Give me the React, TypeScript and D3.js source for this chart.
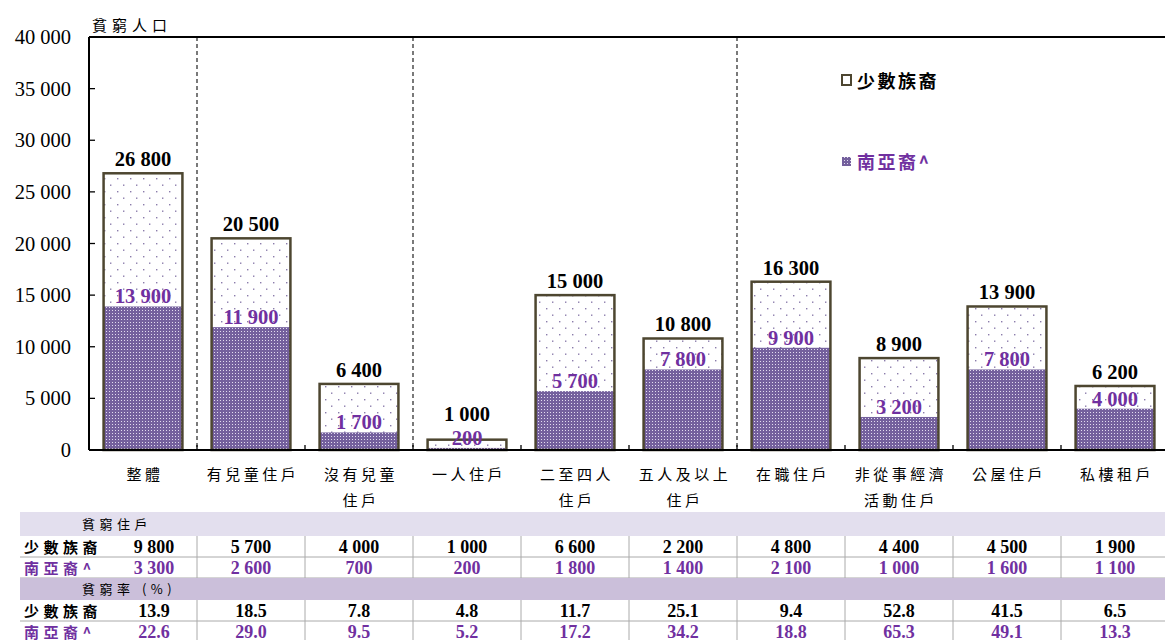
import React from "react";
import * as d3 from "d3";

const categories = ["整體", "有兒童住戶", "沒有兒童住戶", "一人住戶", "二至四人住戶", "五人及以上住戶", "在職住戶", "非從事經濟活動住戶", "公屋住戶", "私樓租戶"];
const categoryLines = [["整體"], ["有兒童住戶"], ["沒有兒童", "住戶"], ["一人住戶"], ["二至四人", "住戶"], ["五人及以上", "住戶"], ["在職住戶"], ["非從事經濟", "活動住戶"], ["公屋住戶"], ["私樓租戶"]];
const minorityPop = [26800, 20500, 6400, 1000, 15000, 10800, 16300, 8900, 13900, 6200];
const southAsianPop = [13900, 11900, 1700, 200, 5700, 7800, 9900, 3200, 7800, 4000];
const minorityHH = [9800, 5700, 4000, 1000, 6600, 2200, 4800, 4400, 4500, 1900];
const southAsianHH = [3300, 2600, 700, 200, 1800, 1400, 2100, 1000, 1600, 1100];
const minorityRate = [13.9, 18.5, 7.8, 4.8, 11.7, 25.1, 9.4, 52.8, 41.5, 6.5];
const southAsianRate = [22.6, 29.0, 9.5, 5.2, 17.2, 34.2, 18.8, 65.3, 49.1, 13.3];
const yTicks = [0, 5000, 10000, 15000, 20000, 25000, 30000, 35000, 40000];
const dividerAfter = ["整體", "沒有兒童住戶", "五人及以上住戶"];
const seriesNames = ["少數族裔", "南亞裔^"];

const W = 1165, H = 640;
const left = 89, right = 1169, top = 37, bottom = 450;
const purple = "#7030a0";
const serif = "'Liberation Serif', 'Times New Roman', serif";
const cjk = "'Noto Sans CJK TC', sans-serif";

const fmt = (v: number) => {
  const s = Math.round(v).toString();
  return s.replace(/\B(?=(\d{3})+(?!\d))/g, " ");
};

export default function App() {
  const x = d3.scaleBand<string>().domain(categories).range([left, right]).paddingInner(0.27).paddingOuter(0.135);
  const xs = d3.scaleBand<string>().domain(categories).range([left, right]).padding(0);
  const y = d3.scaleLinear().domain([0, 40000]).range([bottom, top]);

  const rowTop = 512;
  const rows = [
    { kind: "header", label: "貧窮住戶", y0: rowTop, h: 24, fill: "#e3dfee" },
    { kind: "data", label: seriesNames[0], color: "#000", values: minorityHH.map(fmt), y0: rowTop + 24, h: 21 },
    { kind: "data", label: seriesNames[1], color: purple, values: southAsianHH.map(fmt), y0: rowTop + 45, h: 21 },
    { kind: "header", label: "貧窮率 (%)", y0: rowTop + 66, h: 22, fill: "#cbbfda" },
    { kind: "data", label: seriesNames[0], color: "#000", values: minorityRate.map((v) => v.toFixed(1)), y0: rowTop + 88, h: 21 },
    { kind: "data", label: seriesNames[1], color: purple, values: southAsianRate.map((v) => v.toFixed(1)), y0: rowTop + 109, h: 21 },
  ];

  return (
    <div style={{ position: "absolute", left: 0, top: 0 }}>
      <svg width={W} height={H} style={{ display: "block", background: "#fff" }}>
        <defs>
          <pattern id="dots" width={13} height={13} patternUnits="userSpaceOnUse">
            <rect width={13} height={13} fill="#fff" />
            <rect x={6} y={2.5} width={1.4} height={1.4} fill="#8b7cab" />
            <rect x={0} y={9} width={1.4} height={1.4} fill="#8b7cab" />
          </pattern>
          <pattern id="grid" width={3} height={3} patternUnits="userSpaceOnUse">
            <rect width={3} height={3} fill="#74609d" />
            <rect x={1} y={1} width={1} height={1} fill="#e2dbef" />
          </pattern>
        </defs>

        {/* y title */}
        <text x={92} y={31} fontFamily={cjk} fontSize={15} letterSpacing={5} fill="#000">貧窮人口</text>

        {/* dashed dividers */}
        {dividerAfter.map((c) => {
          const xx = (xs(c) as number) + xs.bandwidth();
          return <line key={c} x1={xx} x2={xx} y1={top} y2={bottom} stroke="#333" strokeWidth={1.3} strokeDasharray="4,3" />;
        })}

        {/* bars */}
        {categories.map((c, i) => {
          const bx = x(c) as number;
          const bw = x.bandwidth();
          const yt = y(minorityPop[i]);
          const yi = y(southAsianPop[i]);
          const outerLabelY = Math.min(yt - 7, yi - 27);
          return (
            <g key={c}>
              <rect x={bx} y={yt} width={bw} height={bottom - yt} fill="url(#dots)" />
              <rect x={bx} y={yi} width={bw} height={bottom - yi} fill="url(#grid)" />
              <rect x={bx} y={yt} width={bw} height={bottom - yt} fill="none" stroke="#4d4630" strokeWidth={2.5} />
              <text x={bx + bw / 2} y={outerLabelY} textAnchor="middle" fontFamily={serif} fontWeight="bold" fontSize={20.5} fill="#000">{fmt(minorityPop[i])}</text>
              <text x={bx + bw / 2} y={yi - 3} textAnchor="middle" fontFamily={serif} fontWeight="bold" fontSize={20.5} fill={purple}>{fmt(southAsianPop[i])}</text>
            </g>
          );
        })}

        {/* axes */}
        <line x1={left} x2={W} y1={top} y2={top} stroke="#000" strokeWidth={2} />
        <line x1={left} x2={left} y1={top} y2={bottom} stroke="#000" strokeWidth={2} />
        <line x1={left} x2={W} y1={bottom} y2={bottom} stroke="#000" strokeWidth={2} />
        {yTicks.map((t) => (
          <g key={t}>
            <line x1={left} x2={left + 6} y1={y(t)} y2={y(t)} stroke="#000" strokeWidth={1.3} />
            <text x={71} y={y(t) + 7} textAnchor="end" fontFamily={serif} fontSize={20.5} fill="#000">{fmt(t)}</text>
          </g>
        ))}
        {categories.slice(1).map((c) => (
          <line key={c} x1={xs(c) as number} x2={xs(c) as number} y1={bottom} y2={bottom - 5} stroke="#000" strokeWidth={1.3} />
        ))}

        {/* category labels */}
        {categories.map((c, i) => {
          const cx = (xs(c) as number) + xs.bandwidth() / 2 + 2;
          return categoryLines[i].map((ln, j) => (
            <text key={c + j} x={cx} y={480 + j * 26} textAnchor="middle" fontFamily={cjk} fontSize={15} letterSpacing={3.5} fill="#000">{ln}</text>
          ));
        })}

        {/* legend */}
        <rect x={842} y={75} width={9} height={10} fill="url(#dots)" stroke="#4d4630" strokeWidth={2} />
        <text x={857} y={88} fontFamily={cjk} fontWeight="bold" fontSize={18} letterSpacing={2.5} fill="#000">{seriesNames[0]}</text>
        <rect x={842} y={157} width={9} height={9} fill="url(#grid)" />
        <text x={857} y={169} fontFamily={cjk} fontWeight="bold" fontSize={18} letterSpacing={2.5} fill={purple}>{seriesNames[1]}</text>

        {/* table */}
        {rows.map((r, ri) => (
          <g key={ri}>
            {r.kind === "header" ? (
              <g>
                <rect x={20} y={r.y0} width={W - 20} height={r.h} fill={r.fill} />
                <text x={82} y={r.y0 + r.h / 2 + 5} fontFamily={cjk} fontSize={13} letterSpacing={4.5} fill="#000">{r.label}</text>
              </g>
            ) : (
              <g>
                <line x1={20} x2={W} y1={r.y0 + r.h} y2={r.y0 + r.h} stroke="#aaa" strokeWidth={1} />
                {categories.slice(1).map((c) => (
                  <line key={c} x1={xs(c) as number} x2={xs(c) as number} y1={r.y0} y2={r.y0 + r.h} stroke="#aaa" strokeWidth={1} />
                ))}
                <text x={24} y={r.y0 + r.h / 2 + 6} fontFamily={cjk} fontWeight="bold" fontSize={15} letterSpacing={4.5} fill={r.color}>{r.label}</text>
                {categories.map((c, i) => {
                  const cx = i === 0 ? 154 : (xs(c) as number) + xs.bandwidth() / 2;
                  return (
                    <text key={c} x={cx} y={r.y0 + r.h / 2 + 6} textAnchor="middle" fontFamily={serif} fontWeight="bold" fontSize={18} fill={r.color}>{r.values![i]}</text>
                  );
                })}
              </g>
            )}
          </g>
        ))}
      </svg>
    </div>
  );
}
